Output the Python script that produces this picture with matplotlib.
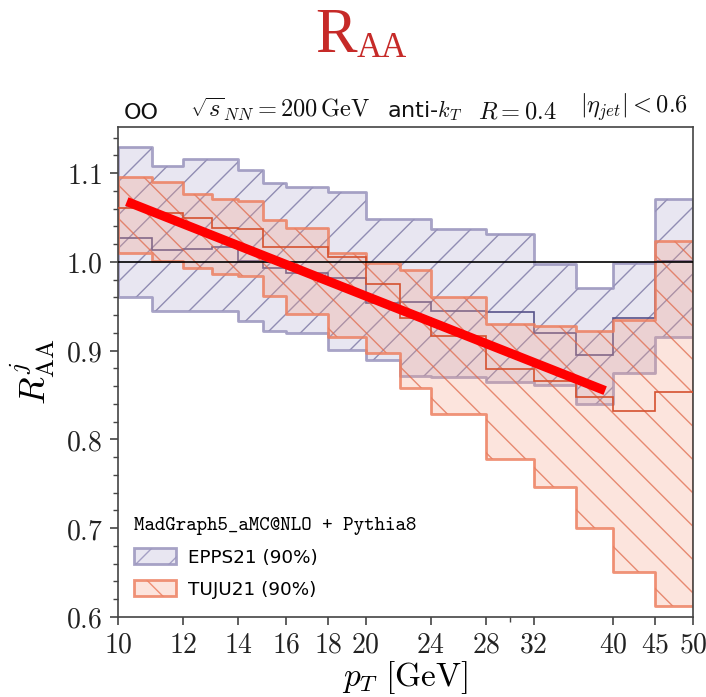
#!/usr/bin/env python3
"""Jet R_AA in OO collisions at 200 GeV: EPPS21 vs TUJU21 nPDF bands."""

import matplotlib

matplotlib.use("Agg")
import matplotlib.patches as mpatches
import matplotlib.pyplot as plt
import numpy as np
from matplotlib.ticker import FixedFormatter, FixedLocator, MultipleLocator

# bin edges in pT [GeV]
PT_EDGES = [10, 11, 12, 13, 14, 15, 16, 18, 20, 22, 24, 28, 32, 36, 40, 45, 50]

EPPS_LO = [0.961, 0.945, 0.945, 0.945, 0.934, 0.922, 0.920, 0.901,
           0.889, 0.872, 0.870, 0.865, 0.861, 0.840, 0.875, 0.915]
EPPS_MID = [1.027, 1.013, 1.014, 1.017, 1.001, 0.993, 0.988, 0.982,
            0.954, 0.955, 0.945, 0.944, 0.920, 0.895, 0.937, 1.001]
EPPS_HI = [1.130, 1.108, 1.116, 1.116, 1.103, 1.089, 1.084, 1.079,
           1.048, 1.048, 1.037, 1.031, 0.998, 0.971, 0.999, 1.071]

TUJU_LO = [1.010, 1.001, 0.993, 0.986, 0.984, 0.962, 0.941, 0.915,
           0.897, 0.858, 0.829, 0.778, 0.746, 0.700, 0.651, 0.612]
TUJU_MID = [1.061, 1.055, 1.049, 1.038, 1.037, 1.017, 1.017, 1.005,
            0.975, 0.937, 0.917, 0.879, 0.866, 0.848, 0.832, 0.853]
TUJU_HI = [1.096, 1.090, 1.076, 1.071, 1.069, 1.047, 1.038, 1.010,
           0.999, 0.991, 0.960, 0.930, 0.928, 0.922, 0.935, 1.024]

PT_TICKS = [10, 12, 14, 16, 18, 20, 24, 28, 32, 40, 45, 50]
R_TICKS = [0.6, 0.7, 0.8, 0.9, 1.0, 1.1]

# hand-drawn trend line on top of the plot
TREND_PT = [10.25, 39.1]
TREND_R = [1.068, 0.855]

EPPS_STYLE = dict(face=(0.72, 0.70, 0.83, 0.32), hatch_col=(0.45, 0.43, 0.62, 0.75),
                  edge=(0.60, 0.58, 0.74, 0.85), line="#57538a", hatch="//")
TUJU_STYLE = dict(face=(0.96, 0.62, 0.52, 0.28), hatch_col=(0.88, 0.42, 0.30, 0.75),
                  edge=(0.93, 0.50, 0.38, 0.85), line="#d5512f", hatch="\\\\")

DPI = 200
plt.rcParams["mathtext.fontset"] = "cm"
plt.rcParams["hatch.linewidth"] = 0.5


def _band(ax, lo, mid, hi, style, z):
    lo_s = np.append(lo, lo[-1])
    hi_s = np.append(hi, hi[-1])
    ax.fill_between(PT_EDGES, lo_s, hi_s, step="post", facecolor=style["face"],
                    edgecolor=style["hatch_col"], hatch=style["hatch"], linewidth=0, zorder=z)
    ax.fill_between(PT_EDGES, lo_s, hi_s, step="post", facecolor="none",
                    edgecolor=style["edge"], linewidth=1.0, zorder=z + 0.5)
    ax.stairs(mid, PT_EDGES, baseline=None, color=style["line"], linewidth=0.6, zorder=z + 0.6)


fig = plt.figure(figsize=(706 / DPI, 697 / DPI), dpi=DPI)
ax = fig.add_axes([0.1671, 0.1148, 0.8145, 0.7030])

_band(ax, EPPS_LO, EPPS_MID, EPPS_HI, EPPS_STYLE, 1)
_band(ax, TUJU_LO, TUJU_MID, TUJU_HI, TUJU_STYLE, 2)
ax.axhline(1.0, color="black", linewidth=0.6, zorder=4)
ax.plot(TREND_PT, TREND_R, color="#ff0000", linewidth=3.3, solid_capstyle="butt", zorder=6)

ax.set_xscale("log")
ax.set_xlim(10, 50)
ax.set_ylim(0.6, 1.152)
ax.xaxis.set_major_locator(FixedLocator(PT_TICKS))
ax.xaxis.set_major_formatter(FixedFormatter([f"${t}$" for t in PT_TICKS]))
ax.xaxis.set_minor_locator(FixedLocator([30]))
ax.xaxis.set_minor_formatter(FixedFormatter([""]))
ax.yaxis.set_major_locator(FixedLocator(R_TICKS))
ax.yaxis.set_major_formatter(FixedFormatter([f"${t:.1f}$" for t in R_TICKS]))
ax.yaxis.set_minor_locator(MultipleLocator(0.02))
ax.tick_params(which="both", direction="out", colors="#444444", labelcolor="#222222",
               top=False, right=False)
ax.tick_params(which="major", length=3.0, width=0.6, labelsize=10, pad=2.5)
ax.tick_params(axis="x", which="major", pad=2.0)
ax.tick_params(which="minor", length=1.8, width=0.5)
for spine in ax.spines.values():
    spine.set_color("#444444")
    spine.set_linewidth(0.6)

ax.set_xlabel(r"$p_T\ [\mathrm{GeV}]$", fontsize=12, labelpad=0)
ax.set_ylabel(r"$R^{j}_{\mathrm{AA}}$", fontsize=13, labelpad=3)

# header line above the frame
hdr = dict(transform=ax.transAxes, va="bottom", fontsize=8.8, color="#111111")
ax.text(0.010, 1.008, "OO", **{**hdr, "fontsize": 8})
ax.text(0.125, 1.008, r"$\sqrt{s}_{NN} = 200\,\mathrm{GeV}$", **hdr)
ax.text(0.468, 1.008, r"anti-$k_T$", **{**hdr, "fontsize": 8})
ax.text(0.626, 1.008, r"$R = 0.4$", **hdr)
ax.text(0.803, 1.008, r"$|\eta_{jet}| < 0.6$", **hdr)

handles = [
    mpatches.Patch(facecolor=EPPS_STYLE["face"], edgecolor=EPPS_STYLE["edge"],
                   hatch="//", linewidth=1.0, label="EPPS21 (90%)"),
    mpatches.Patch(facecolor=TUJU_STYLE["face"], edgecolor=TUJU_STYLE["edge"],
                   hatch="\\\\", linewidth=1.0, label="TUJU21 (90%)"),
]
leg = ax.legend(handles=handles, loc="lower left", bbox_to_anchor=(0.022, 0.03),
                frameon=False, fontsize=6.6, title="MadGraph5_aMC@NLO + Pythia8",
                title_fontproperties={"family": ["cmtt10", "DejaVu Sans Mono"], "size": 7.2},
                alignment="left", handlelength=2.3, handleheight=0.95,
                handletextpad=0.65, labelspacing=0.75, borderpad=0.2, borderaxespad=0)
leg.set_zorder(7)

# slide title
fig.text(0.5057, 0.925, "R", ha="right", va="baseline", fontsize=22.5,
         family="Liberation Serif", color="#c62a28")
fig.text(0.5057, 0.918, "AA", ha="left", va="baseline", fontsize=12.5,
         family="Liberation Serif", color="#c62a28")

fig.savefig("out.png", dpi=DPI)
